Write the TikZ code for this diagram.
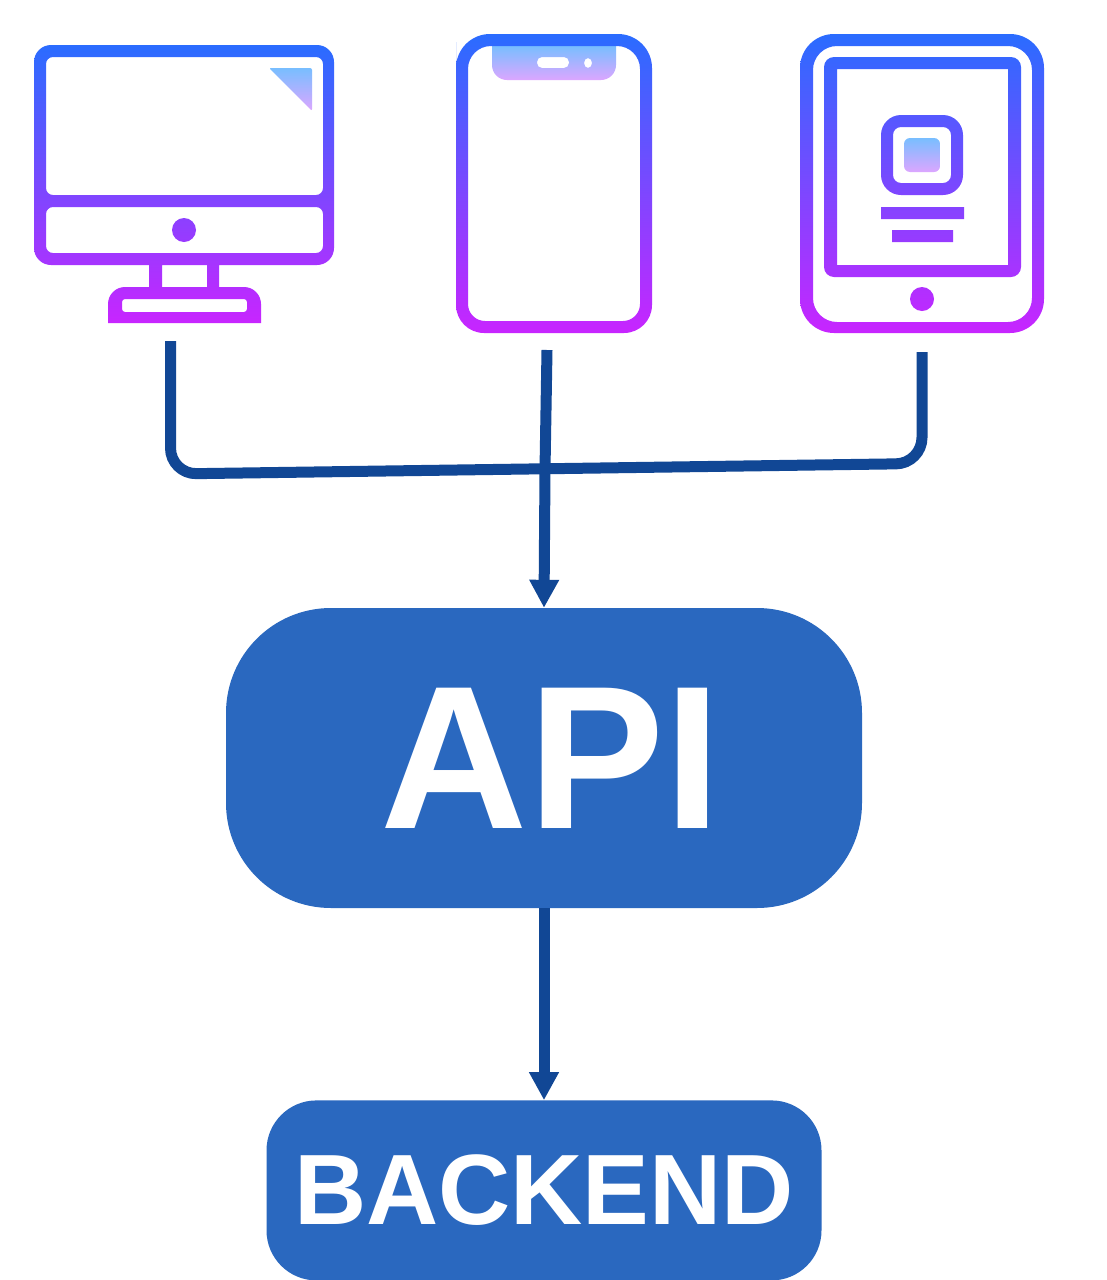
\documentclass[tikz,border=0pt]{standalone}
\usepackage{fontspec}
\setmainfont{Liberation Sans}
\usetikzlibrary{arrows.meta,positioning}
\definecolor{icontop}{HTML}{2A6CFF}
\definecolor{iconbot}{HTML}{C825FF}
\definecolor{softtop}{HTML}{78BEFF}
\definecolor{softbot}{HTML}{DCA6FF}
\definecolor{boxblue}{HTML}{2A68BF}
\definecolor{linkblue}{HTML}{114795}
\tikzset{
	icon/.style={top color=icontop,bottom color=iconbot,even odd rule},
	soft/.style={top color=softtop,bottom color=softbot,even odd rule},
	box/.style={fill=boxblue,text=white,inner sep=0pt,font=\bfseries},
	link/.style={draw=linkblue,line width=11pt},
	tip/.style={-{Triangle[length=28pt,width=28pt]}}
}

\begin{document}
\begin{tikzpicture}[x=1pt,y=-1pt]
	\useasboundingbox[fill=white] (0,0) rectangle (1106,1280);
	\shade[icon]
	[rounded corners=17pt] (34,45) rectangle (334,265)
	[rounded corners=7pt] (46,57) rectangle (323,195)
	(46,207) rectangle (323,253)
	[sharp corners] (184,230) circle (12)
	(149,265) rectangle (162,287)
	(207,265) rectangle (219,287)
	(108,323) [rounded corners=17pt] -- (108,287) -- (261,287) [sharp corners] -- (261,323) -- cycle
	[rounded corners=3pt] (122,299) rectangle (247,312);
	\shade[soft,rounded corners=2pt] (269,68) -- (312,68) -- (312,111) -- cycle;
	\shade[soft] (492,46) [rounded corners=15pt] -- (492,80) -- (616,80) [sharp corners] -- (616,46) -- cycle
	[rounded corners=5pt] (537,57) rectangle (569,68)
	[sharp corners] (588,63) ellipse (4 and 5);
	\shade[icon]
	(456,70) [rounded corners=34pt] -- (456,34) -- (652,34) [rounded corners=28pt] -- (652,333) -- (456,333) -- cycle
	(468,70) [rounded corners=23pt] -- (468,46) -- (640,46) [rounded corners=17pt] -- (640,321) -- (468,321) -- cycle;
	\shade[icon]
	[rounded corners=34pt] (800,34) rectangle (1044,333)
	[rounded corners=24pt] (813,46) rectangle (1032,322)
	[rounded corners=10pt] (824,57) rectangle (1021,277)
	[sharp corners] (837,69) rectangle (1008,265)
	[rounded corners=20pt] (881,115) rectangle (963,195)
	[rounded corners=8pt] (893,127) rectangle (951,183)
	[sharp corners] (881,207) rectangle (964,219)
	(892,230) rectangle (953,242)
	(922,299) circle (12);
	\shade[soft,rounded corners=6pt] (904,138) rectangle (940,172);
	\node[box,minimum width=636pt,minimum height=300pt,rounded corners=105pt,font=\bfseries\fontsize{204}{204}\selectfont] (api) at (544,758) {\hspace*{14pt}API};
	\node[box,minimum width=555pt,minimum height=180pt,rounded corners=50pt,font=\bfseries\fontsize{100}{100}\selectfont,below=192pt of api] (backend) {BACKEND};
	\coordinate (desktop) at (170.5,341);
	\coordinate (phone) at (547,350);
	\coordinate (tablet) at (922,352);
	\coordinate (join) at (545,470);
	\draw[link,rounded corners=26pt] (desktop) -- (170.5,474) -- (922,463.5) -- (tablet);
	\draw[link,tip] (phone) -- (join) -- (api.north);
	\draw[link,tip] (api.south) -- (backend.north);
\end{tikzpicture}
\end{document}
